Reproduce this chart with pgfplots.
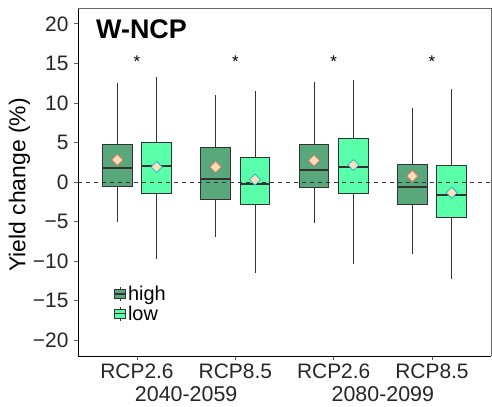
\documentclass[border=0pt]{standalone}
\usepackage{fontspec}
\setmainfont{Liberation Sans}
\usepackage{pgfplots}
\pgfplotsset{compat=1.18}
\usepgfplotslibrary{statistics}

\definecolor{highc}{RGB}{88,168,124}
\definecolor{lowc}{RGB}{90,255,170}
\definecolor{meanfill}{RGB}{253,224,184}
\definecolor{meanhigh}{RGB}{240,120,110}
\definecolor{meanlow}{RGB}{30,180,210}
\definecolor{boxline}{RGB}{51,51,51}

\pgfplotsset{
  yieldbox/.style={
    draw=boxline, line width=1.0pt, mark=none, forget plot,
    boxplot/draw direction=y,
    boxplot/box extend=0.3,
    boxplot/whisker extend=0,
    boxplot/every whisker/.style={line width=0.8pt},
    boxplot/every median/.style={line width=2pt},
  },
  legbox/.style={
    draw=boxline, line width=0.8pt,
    legend image code/.code={
      \draw[line width=0.6pt] (5.5bp,-7bp) -- (5.5bp,7bp);
      \filldraw (0bp,-4.5bp) rectangle (11bp,4.5bp);
      \draw[line width=1.3pt] (0bp,0bp) -- (11bp,0bp);
    },
  },
}

\begin{document}
\begin{tikzpicture}
\path[use as bounding box] (0,0) rectangle (492bp,407bp);
\begin{axis}[
  at={(78bp,51bp)}, anchor=south west,
  scale only axis, width=413bp, height=348bp,
  xmin=0.4, xmax=4.6, ymin=-22, ymax=22,
  axis x line*=bottom, axis y line*=left,
  axis line style={black, line width=0.8pt, -},
  tick align=outside, major tick length=4bp,
  tick style={gray!70!black, line width=0.8pt},
  xtick={1,2,3,4},
  xticklabels={RCP2.6,RCP8.5,RCP2.6,RCP8.5},
  extra x ticks={1.5,3.5},
  extra x tick labels={2040-2059,2080-2099},
  extra x tick style={major tick length=0pt,
    tick label style={yshift=-27bp, font=\fontsize{21.5}{23}\selectfont}},
  ytick={-20,-15,-10,-5,0,5,10,15,20},
  yticklabels={−20,−15,−10,−5,0,5,10,15,20},
  ticklabel style={font=\fontsize{21}{23}\selectfont, text=black!85},
  yticklabel style={xshift=-2bp},
  ylabel={Yield change (\%)},
  ylabel style={font=\fontsize{23}{25}\selectfont, text=black, yshift=-4bp, xshift=-3bp},
  legend style={at={(0.08,0.212)}, anchor=north west, draw=none, fill=none,
    font=\fontsize{20}{22}\selectfont, row sep=1bp,
    nodes={inner sep=1.5bp},
    /tikz/every even column/.append style={column sep=0bp}},
  legend cell align=left,
  clip=false,
]
% 2040-2059 RCP2.6
\addplot[yieldbox, fill=highc, boxplot prepared={draw position=0.8,
  lower whisker=-5.0, lower quartile=-0.6, median=1.8, upper quartile=4.8, upper whisker=12.5}] coordinates {};
\addplot[yieldbox, fill=lowc, boxplot prepared={draw position=1.2,
  lower whisker=-9.7, lower quartile=-1.4, median=2.0, upper quartile=5.0, upper whisker=13.3}] coordinates {};
% 2040-2059 RCP8.5
\addplot[yieldbox, fill=highc, boxplot prepared={draw position=1.8,
  lower whisker=-7.0, lower quartile=-2.15, median=0.35, upper quartile=4.35, upper whisker=11.0}] coordinates {};
\addplot[yieldbox, fill=lowc, boxplot prepared={draw position=2.2,
  lower whisker=-11.5, lower quartile=-2.9, median=-0.3, upper quartile=3.1, upper whisker=11.55}] coordinates {};
% 2080-2099 RCP2.6
\addplot[yieldbox, fill=highc, boxplot prepared={draw position=2.8,
  lower whisker=-5.2, lower quartile=-0.7, median=1.55, upper quartile=4.75, upper whisker=12.7}] coordinates {};
\addplot[yieldbox, fill=lowc, boxplot prepared={draw position=3.2,
  lower whisker=-10.4, lower quartile=-1.4, median=1.95, upper quartile=5.5, upper whisker=12.9}] coordinates {};
% 2080-2099 RCP8.5
\addplot[yieldbox, fill=highc, boxplot prepared={draw position=3.8,
  lower whisker=-9.1, lower quartile=-2.9, median=-0.6, upper quartile=2.15, upper whisker=9.3}] coordinates {};
\addplot[yieldbox, fill=lowc, boxplot prepared={draw position=4.2,
  lower whisker=-12.3, lower quartile=-4.55, median=-1.7, upper quartile=2.05, upper whisker=11.7}] coordinates {};

% zero reference line
\addplot[forget plot, boxline, dash pattern=on 4bp off 4bp, line width=0.7pt] coordinates {(0.4,0) (4.6,0)};

% group means
\addplot[forget plot, only marks, mark=square*, mark size=3.9bp,
  mark options={rotate=45, fill=meanfill, draw=meanhigh, line width=0.8pt}]
  coordinates {(0.8,2.8) (1.8,1.9) (2.8,2.7) (3.8,0.75)};
\addplot[forget plot, only marks, mark=square*, mark size=3.9bp,
  mark options={rotate=45, fill=meanfill, draw=meanlow, line width=0.8pt}]
  coordinates {(1.2,1.9) (2.2,0.3) (3.2,2.15) (4.2,-1.35)};

% significance markers
\addplot[forget plot, draw=none, mark=none, nodes near coords={*},
  nodes near coords align={center},
  every node near coord/.append style={font=\fontsize{17}{19}\selectfont, anchor=center, yshift=-1bp}]
  coordinates {(1,15.4) (2,15.4) (3,15.4) (4,15.4)};

\addlegendimage{legbox, fill=highc}
\addlegendentry{high}
\addlegendimage{legbox, fill=lowc}
\addlegendentry{low}

\draw[gray!80!black, line width=0.8pt] (rel axis cs:0,1) -- (rel axis cs:1,1) -- (rel axis cs:1,0);
\node[anchor=north west, inner sep=0pt, font=\fontsize{27}{30}\selectfont\bfseries]
  at (rel axis cs:0,1) [xshift=18bp, yshift=-12bp] {W-NCP};
\end{axis}
\end{tikzpicture}
\end{document}
